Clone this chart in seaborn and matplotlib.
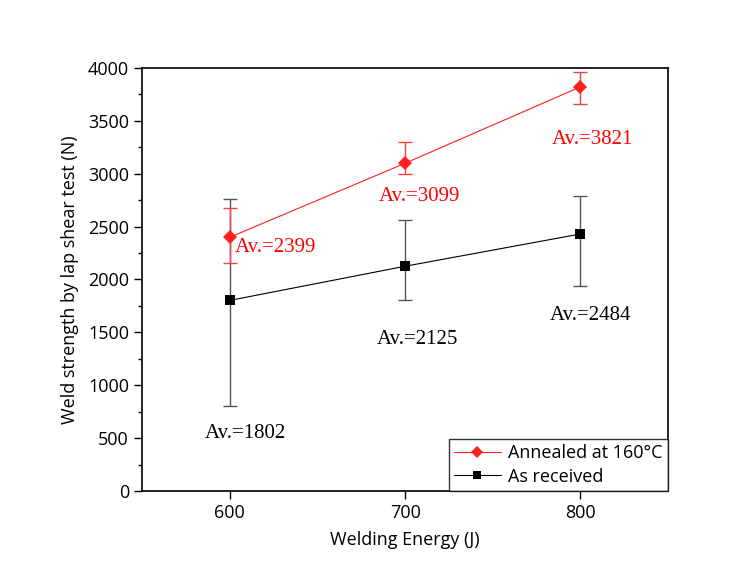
import pandas as pd
import matplotlib.pyplot as plt
import seaborn as sns
from matplotlib.ticker import MultipleLocator

# welding energy (J)
energy = [600, 700, 800]

# annealed at 160 C
annealed_mean = [2399, 3099, 3821]
annealed_low = [2159, 2998, 3657]
annealed_high = [2679, 3297, 3959]
annealed_text = ["Av.=2399", "Av.=3099", "Av.=3821"]

# as received
received_mean = [1802, 2125, 2430]
received_low = [807, 1806, 1938]
received_high = [2764, 2563, 2792]
received_text = ["Av.=1802", "Av.=2125", "Av.=2484"]

sns.set_style("ticks")
plt.rcParams['font.family'] = ['Open Sans', 'DejaVu Sans']
plt.rcParams['text.color'] = 'black'
plt.rcParams['axes.labelcolor'] = 'black'
plt.rcParams['xtick.color'] = 'black'
plt.rcParams['ytick.color'] = 'black'

fig = plt.figure(figsize=(7.56, 5.82), dpi=100)
ax = fig.add_axes([0.188, 0.1564, 0.6956, 0.7268])

df = pd.DataFrame({
    "energy": energy * 2,
    "strength": annealed_mean + received_mean,
    "series": ["Annealed at 160°C"] * 3 + ["As received"] * 3,
})

# error bars first, so the markers sit on top
ax.errorbar(energy, received_mean,
            yerr=[[m - l for m, l in zip(received_mean, received_low)],
                  [h - m for m, h in zip(received_mean, received_high)]],
            fmt="none", ecolor="#555555", elinewidth=1, capsize=5, capthick=1, zorder=1)
ax.errorbar(energy, annealed_mean,
            yerr=[[m - l for m, l in zip(annealed_mean, annealed_low)],
                  [h - m for m, h in zip(annealed_mean, annealed_high)]],
            fmt="none", ecolor="#f04040", elinewidth=1, capsize=5, capthick=1, zorder=1)

sns.lineplot(data=df, x="energy", y="strength", hue="series", style="series",
             palette={"Annealed at 160°C": "#ff2020", "As received": "#000000"},
             markers={"Annealed at 160°C": "D", "As received": "s"},
             dashes=False, linewidth=0.8, markersize=7, markeredgewidth=0,
             ax=ax, zorder=3)

# annotations
serif = "Liberation Serif"
pos_a = [(603, 2298, "left"), (708, 2780, "center"), (807, 3319, "center")]
pos_r = [(609, 548, "center"), (707, 1428, "center"), (806, 1655, "center")]
for (x, y, ha), t in zip(pos_a, annealed_text):
    ax.text(x, y, t, color="#ff0000", fontsize=15, family=serif, ha=ha, va="center")
for (x, y, ha), t in zip(pos_r, received_text):
    ax.text(x, y, t, color="#000000", fontsize=15, family=serif, ha=ha, va="center")

ax.set_xlim(550, 850)
ax.set_ylim(0, 4000)
ax.set_xticks(energy)
ax.yaxis.set_major_locator(MultipleLocator(500))
ax.yaxis.set_minor_locator(MultipleLocator(250))
ax.tick_params(axis="both", which="major", labelsize=13, length=6, width=1, color="black")
ax.tick_params(axis="y", which="minor", length=3, width=1, color="black")

ax.set_xlabel("Welding Energy (J)", fontsize=13, labelpad=6)
ax.set_ylabel("Weld strength by lap shear test (N)", fontsize=13, labelpad=6)

for s in ax.spines.values():
    s.set_visible(True)
    s.set_linewidth(1.2)
    s.set_color("black")

leg = ax.legend(loc="lower right", borderaxespad=0, fontsize=13, frameon=True,
                fancybox=False, edgecolor="black", handlelength=2.6,
                handletextpad=0.4, labelspacing=0.3, borderpad=0.3, markerscale=0.85)
leg.get_frame().set_linewidth(1)

fig.savefig("out.png", dpi=100)
